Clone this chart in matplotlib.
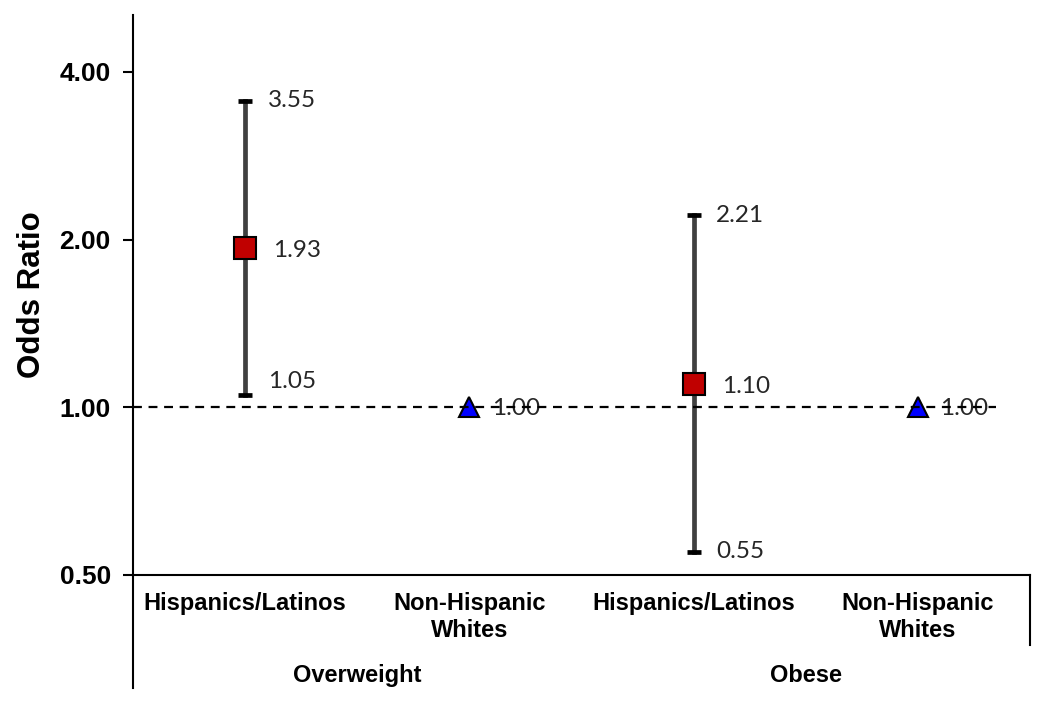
import matplotlib
matplotlib.use("Agg")
import matplotlib.pyplot as plt
import numpy as np

# data
groups = ["Overweight", "Obese"]
categories = ["Hispanics/Latinos", "Non-Hispanic\nWhites", "Hispanics/Latinos", "Non-Hispanic\nWhites"]
odds = [1.93, 1.00, 1.10, 1.00]
lower = [1.05, 1.00, 0.55, 1.00]
upper = [3.55, 1.00, 2.21, 1.00]
is_ref = [False, True, False, True]
yticks = [0.5, 1.0, 2.0, 4.0]

fig = plt.figure(figsize=(10.5, 7.06), dpi=100)
ax = fig.add_axes([0.1267, 0.1856, 0.8543, 0.7932])

x = np.arange(len(categories))
ax.set_yscale("log")
ax.set_ylim(0.5, 5.06)
ax.set_xlim(-0.5, 3.5)

# reference line at OR = 1 (drawn on top, like the original)
ax.plot([-0.5, 3.35], [1, 1], color="black", lw=1.6, ls=(0, (4, 3)), zorder=6)

lab_font = dict(family=["Lato", "DejaVu Sans"], fontsize=17.5, color="#262626")
for i in range(len(x)):
    if not is_ref[i]:
        ax.plot([x[i], x[i]], [lower[i], upper[i]], color="#404040", lw=3.4, zorder=2)
        for v in (lower[i], upper[i]):
            ax.plot([x[i] - 0.031, x[i] + 0.031], [v, v], color="black", lw=3.4,
                    solid_capstyle="butt", zorder=2)
        ax.plot(x[i], odds[i], marker="s", ms=16, mfc="#C00000", mec="black", mew=1.5, zorder=3)
        ax.text(x[i] + 0.1, upper[i], f"{upper[i]:.2f}", va="center", ha="left", **lab_font)
        ax.text(x[i] + 0.125, odds[i] * 0.99, f"{odds[i]:.2f}", va="center", ha="left", **lab_font)
        # Excel nudged the 1.05 label up above its cap
        low_y = lower[i] * 1.06 if lower[i] > 1 else lower[i]
        ax.text(x[i] + 0.1, low_y, f"{lower[i]:.2f}", va="center", ha="left", **lab_font)
    else:
        ax.plot(x[i], odds[i], marker="^", ms=15, mfc="#0000FF", mec="black", mew=1.5, zorder=3)
        ax.text(x[i] + 0.1, odds[i] * 0.995, f"{odds[i]:.2f}", va="center", ha="left", **lab_font)

ax.set_yticks(yticks)
ax.set_yticklabels([f"{v:.2f}" for v in yticks])
ax.yaxis.set_minor_locator(matplotlib.ticker.NullLocator())
ax.tick_params(axis="y", direction="out", length=7, width=1.5, pad=9, labelsize=19)
for t in ax.get_yticklabels():
    t.set_fontweight("bold")
    t.set_family(["Liberation Sans", "DejaVu Sans"])
ax.set_ylabel("Odds Ratio", fontsize=22.5, fontweight="bold", family=["Liberation Sans", "DejaVu Sans"],
              labelpad=9)

ax.set_xticks([])
for s in ["top", "right"]:
    ax.spines[s].set_visible(False)
ax.spines["left"].set_linewidth(1.5)
ax.spines["bottom"].set_linewidth(1.5)

# multi-level category axis
cat_font = dict(family=["Liberation Sans", "DejaVu Sans"], fontsize=17, fontweight="bold")
trans = ax.get_xaxis_transform()
for i, c in enumerate(categories):
    ax.text(x[i], -0.031, c, transform=trans, ha="center", va="top", linespacing=1.22, **cat_font)
for g, name in enumerate(groups):
    ax.text(x[2 * g] + 0.5, -0.18, name, transform=trans, ha="center", va="center", **cat_font)
ax.plot([-0.5, -0.5], [0, -0.2018], transform=trans, color="black", lw=1.5, clip_on=False)
ax.plot([3.5, 3.5], [0, -0.125], transform=trans, color="black", lw=1.5, clip_on=False)

fig.savefig("out.png", dpi=100)
